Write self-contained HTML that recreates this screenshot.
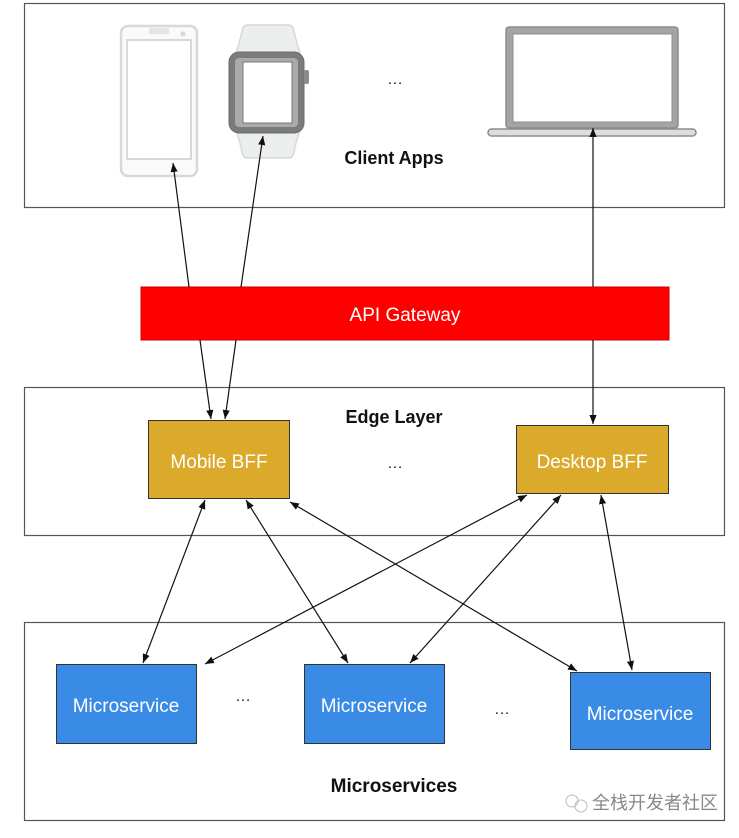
<!DOCTYPE html>
<html><head><meta charset="utf-8"><style>
html,body{margin:0;padding:0;background:#fff;width:739px;height:838px;overflow:hidden}
text{font-family:"Liberation Sans","Noto Sans CJK SC",sans-serif}
</style></head><body>
<svg width="739" height="838" viewBox="0 0 739 838" xmlns="http://www.w3.org/2000/svg">
<defs>
<marker id="a" viewBox="0 0 10 10" refX="10" refY="5" markerWidth="9" markerHeight="9" orient="auto-start-reverse" markerUnits="userSpaceOnUse"><path d="M0,1 L10,5 L0,9 z" fill="#111"/></marker>
</defs>
<rect x="24.5" y="3.5" width="700" height="204" fill="#fff" stroke="#555" stroke-width="1.2"/>
<rect x="24.5" y="387.5" width="700" height="148" fill="#fff" stroke="#555" stroke-width="1.2"/>
<rect x="24.5" y="622.5" width="700" height="198" fill="#fff" stroke="#555" stroke-width="1.2"/>
<!-- phone -->
<rect x="121" y="26" width="76" height="150" rx="7" fill="#fafafa" stroke="#d6d9d9" stroke-width="2.5"/>
<rect x="127" y="40" width="64" height="119" fill="#fff" stroke="#d6d9d9" stroke-width="2"/>
<rect x="149" y="28" width="20" height="6" fill="#e3e6e6"/>
<circle cx="183" cy="34" r="2.5" fill="#d6d9d9"/>
<!-- watch -->
<path d="M248,25 h40 q5,0 6,6 q2,10 6,22 h-64 q4,-12 6,-22 q1,-6 6,-6z" fill="#eceeee" stroke="#d6d9d9" stroke-width="1.5"/>
<path d="M236,130 h64 q-4,12 -6,22 q-1,6 -6,6 h-40 q-5,0 -6,-6 q-2,-10 -6,-22z" fill="#eceeee" stroke="#d6d9d9" stroke-width="1.5"/>
<rect x="229" y="52" width="75" height="81" rx="10" fill="#7a7c7c" stroke="#6a6c6c" stroke-width="1"/>
<rect x="235" y="58" width="63" height="69" rx="4" fill="#a9abab"/>
<rect x="243" y="62" width="49" height="61" fill="#fff" stroke="#777" stroke-width="1"/>
<rect x="304" y="70" width="5" height="14" rx="2" fill="#8a8c8c"/>
<!-- laptop -->
<rect x="506" y="27" width="172" height="101" rx="3" fill="#a3a5a5" stroke="#8b8d8d" stroke-width="1.5"/>
<rect x="513" y="34" width="159" height="88" fill="#fff" stroke="#8b8d8d" stroke-width="1"/>
<rect x="488" y="129" width="208" height="7" rx="3.5" fill="#dcdede" stroke="#8b8d8d" stroke-width="1.5"/>
<text x="395" y="84" font-size="16" text-anchor="middle" fill="#222">…</text>
<text x="394" y="164" font-size="18" font-weight="bold" text-anchor="middle" fill="#111">Client Apps</text>
<rect x="141" y="287" width="528" height="53" fill="#ff0000" stroke="#cc0000" stroke-width="1"/>
<text x="405" y="321" font-size="19" text-anchor="middle" fill="#fff">API Gateway</text>
<text x="394" y="423" font-size="18" font-weight="bold" text-anchor="middle" fill="#111">Edge Layer</text>
<rect x="148.5" y="420.5" width="141" height="78" fill="#dbaa2a" stroke="#333" stroke-width="1"/>
<text x="219" y="468" font-size="19" text-anchor="middle" fill="#fff">Mobile BFF</text>
<rect x="516.5" y="425.5" width="152" height="68" fill="#dbaa2a" stroke="#333" stroke-width="1"/>
<text x="592" y="468" font-size="19" text-anchor="middle" fill="#fff">Desktop BFF</text>
<text x="395" y="468" font-size="16" text-anchor="middle" fill="#222">…</text>
<rect x="56.5" y="664.5" width="140" height="79" fill="#3a8be6" stroke="#333" stroke-width="1"/>
<text x="126" y="712" font-size="19" text-anchor="middle" fill="#fff">Microservice</text>
<rect x="304.5" y="664.5" width="140" height="79" fill="#3a8be6" stroke="#333" stroke-width="1"/>
<text x="374" y="712" font-size="19" text-anchor="middle" fill="#fff">Microservice</text>
<rect x="570.5" y="672.5" width="140" height="77" fill="#3a8be6" stroke="#333" stroke-width="1"/>
<text x="640" y="720" font-size="19" text-anchor="middle" fill="#fff">Microservice</text>
<text x="243" y="701" font-size="16" text-anchor="middle" fill="#222">…</text>
<text x="502" y="714" font-size="16" text-anchor="middle" fill="#222">…</text>
<text x="394" y="792" font-size="19" font-weight="bold" text-anchor="middle" fill="#111">Microservices</text>
<text x="655" y="809" font-size="18" text-anchor="middle" fill="#888">全栈开发者社区</text>
<g fill="none" stroke="#bbb" stroke-width="1"><circle cx="572" cy="801" r="6"/><circle cx="581" cy="806" r="6"/></g>
<g stroke="#111" stroke-width="1.2" fill="none">
<line x1="189" y1="287" x2="173" y2="163" marker-end="url(#a)"/>
<line x1="241" y1="287" x2="263" y2="136" marker-end="url(#a)"/>
<line x1="593" y1="287" x2="593" y2="128" marker-end="url(#a)"/>
<line x1="200" y1="340" x2="211" y2="419" marker-end="url(#a)"/>
<line x1="236" y1="340" x2="225" y2="419" marker-end="url(#a)"/>
<line x1="593" y1="340" x2="593" y2="424" marker-end="url(#a)"/>
<line x1="205" y1="500" x2="143" y2="663" marker-start="url(#a)" marker-end="url(#a)"/>
<line x1="246" y1="500" x2="348" y2="663" marker-start="url(#a)" marker-end="url(#a)"/>
<line x1="290" y1="502" x2="577" y2="671" marker-start="url(#a)" marker-end="url(#a)"/>
<line x1="527" y1="495" x2="205" y2="664" marker-start="url(#a)" marker-end="url(#a)"/>
<line x1="561" y1="495" x2="410" y2="663" marker-start="url(#a)" marker-end="url(#a)"/>
<line x1="601" y1="495" x2="632" y2="670" marker-start="url(#a)" marker-end="url(#a)"/>
</g>
</svg>
</body></html>
